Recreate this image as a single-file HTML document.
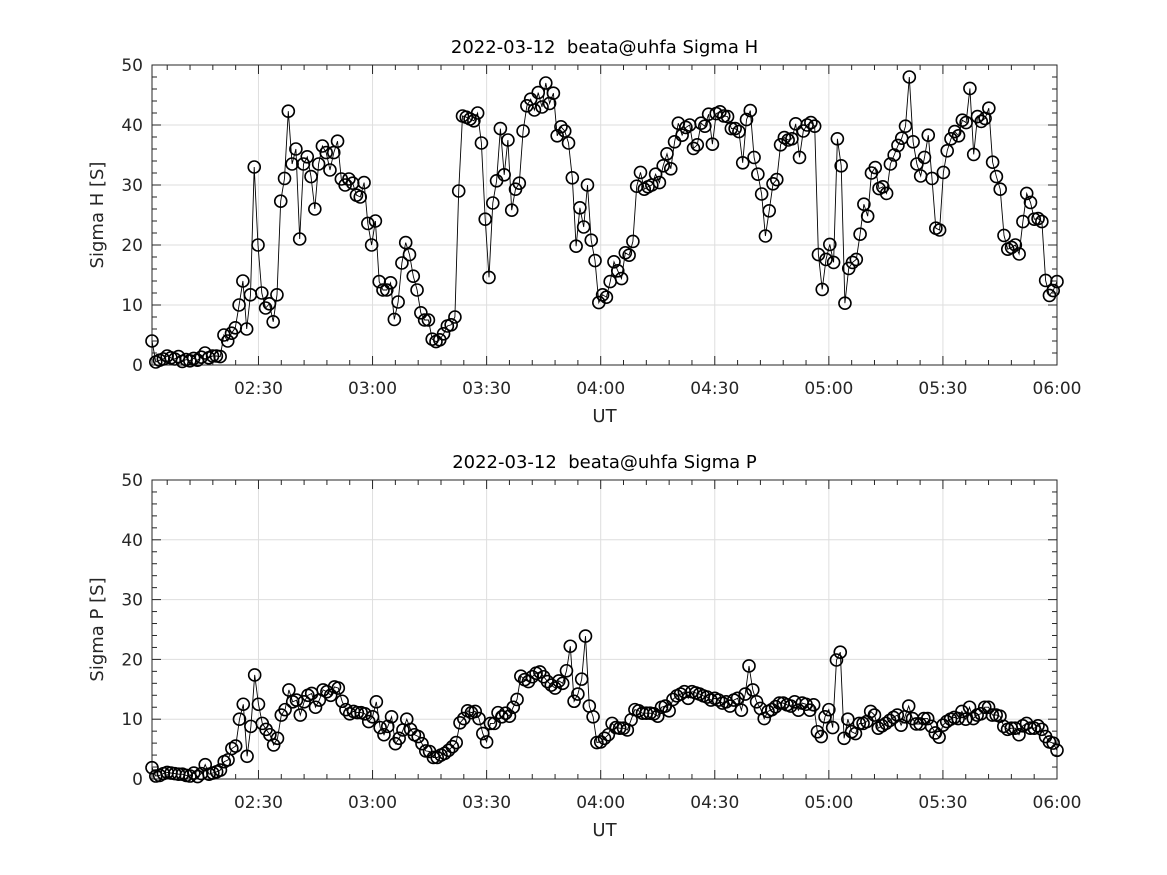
<!DOCTYPE html>
<html><head><meta charset="utf-8">
<style>
html,body{margin:0;padding:0;background:#fff;}
svg{display:block;font-family:"DejaVu Sans","Liberation Sans",sans-serif;}
</style></head>
<body>
<svg id="fig" width="1167" height="875" viewBox="0 0 1167 875" xmlns="http://www.w3.org/2000/svg">
<rect x="0" y="0" width="1167" height="875" fill="#fff"/>
</svg>
<script>
const xTickValues = [150,180,210,240,270,300,330,360];
const xTickLabels = ["02:30","03:00","03:30","04:00","04:30","05:00","05:30","06:00"];
const yTickValues = [0,10,20,30,40,50];
const yTickLabels = ["0","10","20","30","40","50"];
const sigmaH = [4,0.5,0.8,1,1.5,1.2,1.0,1.4,0.6,0.9,0.7,1.1,0.8,1.3,2,1.2,1.5,1.5,1.4,
5,4,5.3,6.2,10,14,6,11.7,33,20,12,9.5,10.2,7.2,11.7,27.3,31.1,42.3,33.5,36,21,33.5,34.7,31.4,26,33.5,36.5,35.4,32.5,35.4,37.3,31,30,31,30.3,28.3,28,30.4,23.6,20,24,13.9,12.5,
12.5,13.7,7.6,10.5,17,20.4,18.4,14.8,12.5,8.7,7.5,7.5,4.3,3.9,4.2,5.2,6.5,6.7,8,29,41.5,41.3,41,40.7,42,37,24.3,14.6,27,30.7,39.4,31.7,37.5,25.8,29.3,30.3,39,43.2,44.3,42.5,45.4,43,47,43.6,45.3,38.2,39.7,39,37,31.2,19.8,26.2,23,30,20.8,17.4,10.4,11.7,11.3,13.9,17.2,
15.7,14.4,18.7,18.3,20.6,29.8,32.1,29.3,29.7,30,31.8,30.4,33.2,35.2,32.7,37.2,40.3,38.3,39.6,40,36.1,36.7,40.3,39.8,41.8,36.8,41.9,42.2,41.5,41.4,39.4,39.4,38.9,33.7,40.9,42.4,34.6,31.8,28.5,21.5,25.7,30.2,30.9,36.7,37.9,37.5,37.7,40.2,34.6,39,40,40.4,39.8,18.4,12.6,17.6,20.1,17.1,37.7,33.2,10.3,
16.1,17.1,17.6,21.8,26.8,24.8,32,32.9,29.4,29.7,28.6,33.5,35,36.6,37.8,39.8,48,37.2,33.5,31.5,34.6,38.3,31.1,22.8,22.5,32.1,35.7,37.7,38.9,38.2,40.8,40.4,46.1,35.1,41.4,40.6,41.1,42.8,33.8,31.4,29.3,21.6,19.3,19.6,20,18.5,23.9,28.6,27.1,24.3,24.4,23.9,14.1,11.6,12.4,13.9];
const sigmaP = [1.9,0.5,0.6,0.9,1.1,1.0,0.9,0.8,0.8,0.6,0.5,1.0,0.4,0.9,2.4,0.8,1.0,1.2,1.5,
2.9,3.2,5.1,5.5,10,12.5,3.8,8.8,17.4,12.5,9.3,8.3,7.4,5.7,6.8,10.7,11.6,14.9,12.9,13.2,10.7,12.9,14,14.3,12,13.2,14.9,14.6,14,15.4,15.2,13,11.6,10.9,11.3,11.1,11.1,10.9,9.6,10.4,12.9,8.6,
7.4,8.8,10.4,5.9,6.8,8.2,10,8.3,7.4,7.1,5.9,4.7,4.6,3.6,3.6,4,4.3,4.8,5.4,6.1,9.4,10.1,11.4,11.1,11.3,10.1,7.6,6.2,9.3,9.3,11.1,10.4,11,10.5,12,13.3,17.2,16.6,16.3,17.1,17.7,17.9,17.1,16.3,15.7,15.2,16.4,16,18.1,22.2,13,14.2,16.7,23.9,12.2,10.4,6.1,6.2,6.8,7.4,9.3,
8.6,8.5,8.5,8.2,9.9,11.6,11.4,11,11,11,10.9,10.5,12,12.2,11.4,13.3,13.9,14.2,14.6,13.5,14.6,14.4,14.2,13.9,13.7,13.2,13.5,13.2,12.7,12.9,12.2,13.2,13.5,11.5,14.2,18.9,14.9,12.9,11.8,10.1,11.3,11.6,12.1,12.7,12.7,12.4,12.2,12.9,11.5,12.7,12.5,11.5,12.4,7.9,7.1,10.4,11.6,8.6,19.9,21.2,6.8,
10,7.9,7.6,9.3,9.3,9.6,11.3,10.7,8.5,8.9,9.3,9.8,10.3,10.7,9,10.4,12.2,10.1,9.2,9.2,10.1,10.1,8.8,7.7,7,9,9.6,10,10.3,10.1,11.3,10,12,10.1,10.7,10.9,12,12,10.7,10.7,10.5,8.8,8.3,8.5,8.5,7.4,8.9,9.3,8.5,8.5,8.9,8.3,7.1,6.2,6,4.8];
const tStart = 122, tEnd = 360, yMin = 0, yMax = 50;

const NS = "http://www.w3.org/2000/svg";
const svg = document.getElementById('fig');
function mk(tag, attrs, parent){ const e=document.createElementNS(NS,tag); for(const k in attrs) e.setAttribute(k,attrs[k]); (parent||svg).appendChild(e); return e; }

function panel(top, bottom, data, title, ylabel, key){
  const L=152, R=1057;
  const xs = t => L + (t - tStart)/(tEnd - tStart)*(R-L);
  const ys = v => bottom - (v - yMin)/(yMax - yMin)*(bottom-top);
  const g = mk('g',{});
  
  
  // grid
  xTickValues.forEach(t=>{ const l=mk('line',{x1:xs(t),x2:xs(t),y1:top,y2:bottom,stroke:'#dedede','stroke-width':1},g);
      });
  yTickValues.forEach(v=>{ const l=mk('line',{x1:L,x2:R,y1:ys(v),y2:ys(v),stroke:'#dedede','stroke-width':1},g);
      });
  // minor ticks
  for(let t=126;t<tEnd;t+=6){ if(t%30===0) continue; const x=xs(t);
    mk('line',{x1:x,x2:x,y1:bottom,y2:bottom-5,stroke:'#262626','stroke-width':1},g);
    mk('line',{x1:x,x2:x,y1:top,y2:top+5,stroke:'#262626','stroke-width':1},g); }
  for(let v=2;v<yMax;v+=2){ if(v%10===0) continue; const y=ys(v);
    mk('line',{x1:L,x2:L+5,y1:y,y2:y,stroke:'#262626','stroke-width':1},g);
    mk('line',{x1:R,x2:R-5,y1:y,y2:y,stroke:'#262626','stroke-width':1},g); }
  // major ticks + labels
  xTickValues.forEach((t,i)=>{ const x=xs(t);
    mk('line',{x1:x,x2:x,y1:bottom,y2:bottom-9,stroke:'#262626','stroke-width':1},g);
    mk('line',{x1:x,x2:x,y1:top,y2:top+9,stroke:'#262626','stroke-width':1},g);
    const tx=mk('text',{x:x,y:bottom+29,'text-anchor':'middle','font-size':17,fill:'#262626'},g);
    tx.textContent=xTickLabels[i];
      });
  yTickValues.forEach((v,i)=>{ const y=ys(v);
    mk('line',{x1:L,x2:L+9,y1:y,y2:y,stroke:'#262626','stroke-width':1},g);
    mk('line',{x1:R,x2:R-9,y1:y,y2:y,stroke:'#262626','stroke-width':1},g);
    const tx=mk('text',{x:L-9,y:y+6,'text-anchor':'end','font-size':17,fill:'#262626'},g);
    tx.textContent=yTickLabels[i];
      });
  // box
  const box=mk('rect',{x:L,y:top,width:R-L,height:bottom-top,fill:'none',stroke:'#262626','stroke-width':1},g);
   
  // series
  const n=data.length;
  const tAt = i => tStart + i*(tEnd-tStart)/(n-1);
  const pts = data.map((v,i)=>xs(tAt(i)).toFixed(1)+','+ys(v).toFixed(1)).join(' ');
  const pl=mk('polyline',{points:pts,fill:'none',stroke:'#000','stroke-width':0.9},g);
   
  data.forEach((v,i)=>{ const c=mk('circle',{cx:xs(tAt(i)),cy:ys(v),r:6,fill:'none',stroke:'#000','stroke-width':1.6},g);
      });
  // labels
  const ti=mk('text',{x:(L+R)/2,y:top-12,'text-anchor':'middle','font-size':18,fill:'#000'},g);
  ti.setAttribute('xml:space','preserve'); ti.style.whiteSpace='pre';
  ti.textContent=title;
   
  const xl=mk('text',{x:(L+R)/2,y:bottom+57,'text-anchor':'middle','font-size':18,fill:'#262626'},g);
  xl.textContent='UT';
   
  const cy=(top+bottom)/2;
  const yl=mk('text',{x:103,y:cy,'text-anchor':'middle','font-size':18,fill:'#262626',transform:'rotate(-90 103 '+cy+')'},g);
  yl.textContent=ylabel;
   
}
panel(65, 365, sigmaH, '2022-03-12  beata@uhfa Sigma H', 'Sigma H [S]', 'sigma-h');
panel(480, 779, sigmaP, '2022-03-12  beata@uhfa Sigma P', 'Sigma P [S]', 'sigma-p');
</script>
</body></html>
